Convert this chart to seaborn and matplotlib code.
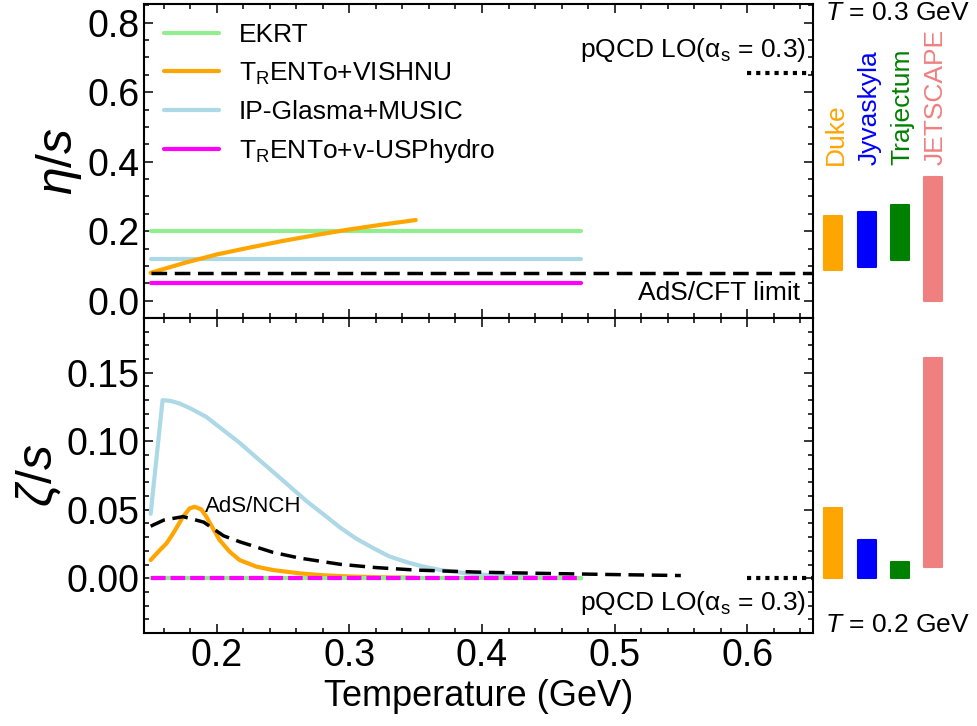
import numpy as np
import pandas as pd
import matplotlib
matplotlib.use('Agg')
import matplotlib.pyplot as plt
import seaborn as sb
from matplotlib.ticker import MultipleLocator

# eta/s curves (top panel)
T_flat = [0.15, 0.475]
eta_ekrt = [0.2, 0.2]
eta_ipglasma = [0.12, 0.12]
eta_usphydro = [0.05, 0.05]
T_vishnu = [0.15, 0.175, 0.2, 0.225, 0.25, 0.275, 0.3, 0.325, 0.35]
eta_vishnu = [0.080, 0.108, 0.133, 0.153, 0.172, 0.189, 0.205, 0.219, 0.232]
T_ads = [0.15, 0.65]
eta_ads = [0.08, 0.08]
T_pqcd = [0.6, 0.65]
eta_pqcd = [0.655, 0.655]

# zeta/s curves (bottom panel)
zeta_ekrt = [0.0, 0.0]
zeta_usphydro = [0.0, 0.0]
zeta_pqcd = [0.0, 0.0]
T_ip = [0.15, 0.159, 0.165, 0.172, 0.18, 0.192, 0.205, 0.217, 0.23, 0.242, 0.255, 0.268,
        0.28, 0.293, 0.305, 0.318, 0.33, 0.344, 0.356, 0.369, 0.381, 0.394, 0.41, 0.43, 0.45, 0.475]
zeta_ip = [0.047, 0.130, 0.1295, 0.1275, 0.124, 0.1178, 0.108, 0.099, 0.088, 0.078, 0.067, 0.056,
           0.047, 0.037, 0.029, 0.022, 0.016, 0.0115, 0.0085, 0.006, 0.0045, 0.003, 0.002, 0.001, 0.0004, 0.0]
T_vishnu_z = [0.15, 0.157, 0.162, 0.167, 0.1745, 0.1794, 0.1832, 0.1882, 0.192, 0.197, 0.202, 0.2096,
              0.2171, 0.2298, 0.2423, 0.2624, 0.28, 0.30, 0.325, 0.35]
zeta_vishnu = [0.0133, 0.0206, 0.0255, 0.0328, 0.045, 0.051, 0.0522, 0.0503, 0.045, 0.0364, 0.028, 0.0194,
               0.0133, 0.0085, 0.006, 0.0036, 0.0022, 0.0013, 0.0007, 0.0004]
T_nch = [0.15, 0.16, 0.1745, 0.19, 0.205, 0.217, 0.242, 0.262, 0.293, 0.32, 0.35, 0.4, 0.45, 0.5, 0.55]
zeta_nch = [0.038, 0.0425, 0.045, 0.041, 0.031, 0.0267, 0.019, 0.0148, 0.0102, 0.0078, 0.006, 0.0044,
            0.0035, 0.0027, 0.002]

# Bayesian ranges at fixed T
groups = ['Duke', 'Jyvaskyla', 'Trajectum', 'JETSCAPE']
group_colors = ['orange', 'blue', 'green', 'lightcoral']
eta_low = [0.088, 0.098, 0.118, 0.0]
eta_high = [0.245, 0.256, 0.276, 0.356]
zeta_low = [0.0, 0.0, 0.0, 0.0085]
zeta_high = [0.0515, 0.0277, 0.0119, 0.161]

sb.set_theme(style='ticks', rc={'axes.edgecolor': 'black', 'xtick.color': 'black',
                                'ytick.color': 'black', 'text.color': 'black',
                                'axes.labelcolor': 'black'})
plt.rcParams['font.family'] = ['Liberation Sans', 'DejaVu Sans']
plt.rcParams['mathtext.fontset'] = 'custom'
plt.rcParams['mathtext.rm'] = 'Liberation Sans'
plt.rcParams['mathtext.it'] = 'Liberation Sans:italic'
plt.rcParams['mathtext.bf'] = 'Liberation Sans:bold'

fig = plt.figure(figsize=(9.77, 7.26), dpi=100)
ax1 = fig.add_axes([0.1474, 0.562, 0.6851, 0.433])
ax2 = fig.add_axes([0.1474, 0.128, 0.6851, 0.434], sharex=ax1)
side1 = fig.add_axes([0.8325, 0.562, 0.1675, 0.433], sharey=ax1)
side2 = fig.add_axes([0.8325, 0.128, 0.1675, 0.434], sharey=ax2)

lw = 3
# top panel
sb.lineplot(x=T_flat, y=eta_ekrt, ax=ax1, color='lightgreen', lw=lw, label='EKRT', legend=False)
sb.lineplot(x=T_vishnu, y=eta_vishnu, ax=ax1, color='orange', lw=lw,
            label='T$_\\mathrm{R}$ENTo+VISHNU', legend=False, zorder=4)
sb.lineplot(x=T_flat, y=eta_ipglasma, ax=ax1, color='lightblue', lw=lw,
            label='IP-Glasma+MUSIC', legend=False)
sb.lineplot(x=T_flat, y=eta_usphydro, ax=ax1, color='magenta', lw=lw,
            label='T$_\\mathrm{R}$ENTo+v-USPhydro', legend=False)
sb.lineplot(x=T_ads, y=eta_ads, ax=ax1, color='black', lw=2.5, linestyle=(0, (4.5, 2.2)), legend=False, zorder=5)
sb.lineplot(x=T_pqcd, y=eta_pqcd, ax=ax1, color='black', lw=3, linestyle=(0, (1, 1.2)), legend=False)

# bottom panel
sb.lineplot(x=T_ip, y=zeta_ip, ax=ax2, color='lightblue', lw=lw, legend=False)
sb.lineplot(x=T_vishnu_z, y=zeta_vishnu, ax=ax2, color='orange', lw=lw, legend=False)
sb.lineplot(x=T_nch, y=zeta_nch, ax=ax2, color='black', lw=2.5, linestyle=(0, (4.5, 2.2)), legend=False)
sb.lineplot(x=T_flat, y=zeta_ekrt, ax=ax2, color='lightgreen', lw=lw, legend=False)
sb.lineplot(x=T_flat, y=zeta_usphydro, ax=ax2, color='magenta', lw=lw, linestyle=(0, (3.5, 1.2)), legend=False)
sb.lineplot(x=T_pqcd, y=zeta_pqcd, ax=ax2, color='black', lw=3, linestyle=(0, (1, 1.2)), legend=False)

ax1.legend(loc='upper left', frameon=False, fontsize=19, handlelength=2.1,
           handletextpad=0.75, labelspacing=0.5, borderaxespad=0.35)

ax1.text(0.6448, 0.701, 'pQCD LO($\\mathrm{\\alpha_s}$ = 0.3)', fontsize=19, ha='right', va='baseline')
ax1.text(0.6403, 0.003, 'AdS/CFT limit', fontsize=19, ha='right', va='baseline')
ax2.text(0.6448, -0.0231, 'pQCD LO($\\mathrm{\\alpha_s}$ = 0.3)', fontsize=19, ha='right', va='baseline')
ax2.text(0.1907, 0.0485, 'AdS/NCH', fontsize=16, ha='left', va='baseline')

ax1.set_xlim(0.145, 0.65)
ax1.set_ylim(-0.05, 0.855)
ax2.set_ylim(-0.04, 0.19)
ax1.set_ylabel('$\\eta/s$', fontsize=36, labelpad=2)
ax2.set_ylabel('$\\zeta/s$', fontsize=36, labelpad=2)
ax2.set_xlabel('Temperature (GeV)', fontsize=26)
ax1.set_xlabel('')

ax1.xaxis.set_major_locator(MultipleLocator(0.1))
ax1.xaxis.set_minor_locator(MultipleLocator(0.02))
ax1.yaxis.set_major_locator(MultipleLocator(0.2))
ax1.yaxis.set_minor_locator(MultipleLocator(0.05))
ax2.yaxis.set_major_locator(MultipleLocator(0.05))
ax2.yaxis.set_minor_locator(MultipleLocator(0.01))
for ax in (ax1, ax2):
    ax.tick_params(which='both', direction='in', top=True, right=True, labelsize=27, width=1.1)
    ax.tick_params(which='major', length=6.5)
    ax.tick_params(which='minor', length=3.5)
    for s in ax.spines.values():
        s.set_linewidth(1.5)
ax1.tick_params(labelbottom=False)

# side bars
pos = np.arange(len(groups))
for side, lo, hi in ((side1, eta_low, eta_high), (side2, zeta_low, zeta_high)):
    side.bar(pos, np.array(hi) - np.array(lo), bottom=lo, width=0.54, color=group_colors,
             edgecolor=group_colors, linewidth=1.5, joinstyle='round')
    side.set_xlim(-0.6, 4.32)
    side.axis('off')
for p, name, c in zip(pos, groups, group_colors):
    side1.text(p + 0.08, 0.39, name, color=c, fontsize=19, rotation=90, ha='center', va='bottom')

fig.text(0.8444, 0.9725, '$T$ = 0.3 GeV', fontsize=19, ha='left', va='baseline')
fig.text(0.8444, 0.1295, '$T$ = 0.2 GeV', fontsize=19, ha='left', va='baseline')

fig.savefig('out.png', dpi=100)
